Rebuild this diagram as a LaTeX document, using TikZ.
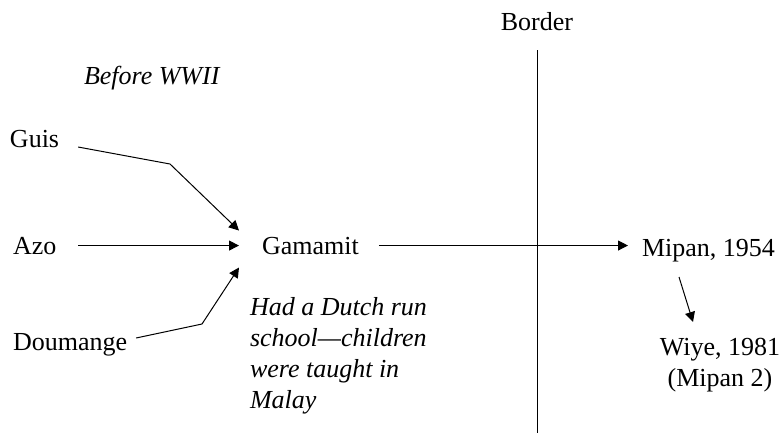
\documentclass[tikz,border=0pt]{standalone}
\usepackage{fontspec}
\setmainfont{Liberation Serif}
\usetikzlibrary{arrows.meta}

\tikzset{
 lbl/.style={inner sep=0pt, outer sep=0pt, font=\fontsize{13}{15.5}\selectfont},
 note/.style={lbl, font=\fontsize{13}{15.5}\selectfont\itshape, align=left},
 arr/.style={line width=0.5pt, -{Triangle[length=5pt,width=5pt]}}
}

\begin{document}
\begin{tikzpicture}[x=0.5pt,y=-0.5pt]
 \useasboundingbox (0,0) rectangle (782,435);
 % border line
 \node[lbl,anchor=base] (border) at (537,30) {Border};
 \coordinate (btop) at (537,50);
 \coordinate (bbot) at (537,433);
 \draw[line width=0.5pt] (btop) -- (bbot);
 % villages
 \node[note,anchor=base west] (wwii) at (84,84) {Before WWII};
 \node[lbl,anchor=base west] (guis) at (10,147) {Guis};
 \node[lbl,anchor=base west] (azo) at (13,254) {Azo};
 \node[lbl,anchor=base west] (doum) at (13,350) {Doumange};
 \node[lbl,anchor=base west] (gam) at (262,254) {Gamamit};
 \node[note,anchor=north west] (school) at (250,297) {Had a Dutch run\\school\textemdash children\\were taught in\\Malay};
 \node[lbl,anchor=base west] (mipan) at (642,256) {Mipan, 1954};
 \node[lbl,align=center,anchor=north] (wiye) at (720,338) {Wiye, 1981\\(Mipan 2)};
 % moves
 \coordinate (gbend) at (170,164);
 \coordinate (dbend) at (202,324);
 \draw[arr] ([xshift=9.5pt]guis.base east) -- (gbend) -- ([shift={(-23,-15)}]gam.west);
 \draw[arr] ([xshift=11pt]azo.east) -- ([xshift=-11.5pt]azo.east -| gam.west);
 \draw[arr] ([shift={(9,-12)}]doum.base east) -- (dbend) -- ([shift={(-23,22)}]gam.west);
 \draw[arr] ([xshift=10pt]gam.east) -- ([xshift=-7pt]gam.east -| mipan.west);
 \draw[arr] ([shift={(37,21)}]mipan.base west) -- ([shift={(-27,-16)}]wiye.north);
\end{tikzpicture}
\end{document}
